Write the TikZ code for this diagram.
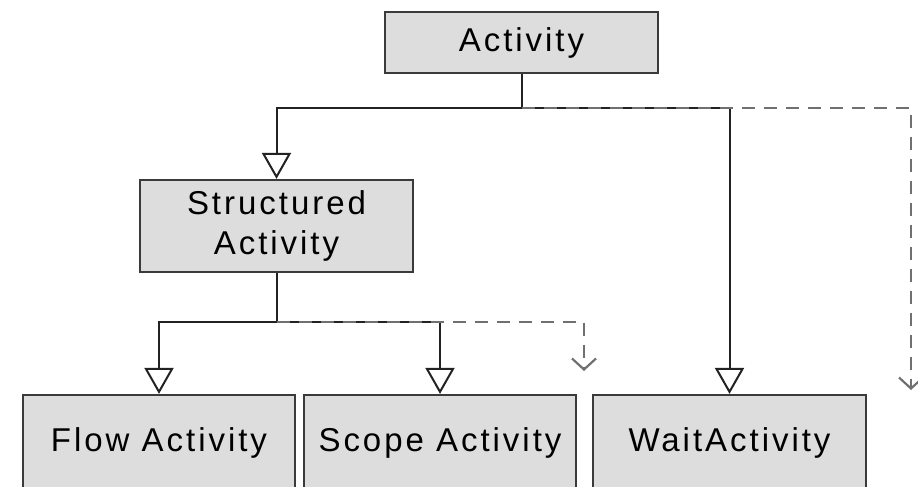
\documentclass[tikz,border=0pt]{standalone}
\usepackage{fontspec}
\newfontfamily\lblfont[LetterSpace=9]{Liberation Sans}
\usetikzlibrary{arrows.meta}
\definecolor{boxfill}{HTML}{DDDDDD}
\definecolor{edgec}{HTML}{222222}
\definecolor{borderc}{HTML}{3A3A3A}
\definecolor{dashc}{HTML}{707070}
\begin{document}
\begin{tikzpicture}[x=1pt,y=-1pt,
  cls/.style={draw=borderc, line width=2.2pt, fill=boxfill,
    font=\lblfont\fontsize{33}{40}\selectfont, text=black,
    text height=23.6pt, text depth=5pt, inner sep=0pt,
    minimum width=273pt, align=center},
  gen/.style={draw=edgec, line width=2pt,
    -{Triangle[open,fill=white,length=26pt,width=29pt,line width=2pt]}},
  more/.style={draw=dashc, line width=2.6pt, dash pattern=on 13pt off 9pt,
    -{Straight Barb[length=11pt,width=24pt,line width=2.2pt]}}]
\useasboundingbox (0,0) rectangle (918,487);
\clip (0,0) rectangle (918,487);

\node[cls, minimum height=61pt] (act) at (521.5,42.5) {Activity};
\node[cls, minimum height=92pt, text height=63.6pt, text depth=7pt] (sa) at (276.5,226) {Structured\\Activity};
\node[cls, minimum width=272pt, minimum height=95pt] (flow) at (159,442.5) {Flow Activity};
\node[cls, minimum width=272pt, minimum height=95pt] (scope) at (440,442.5) {Scope Activity};
\node[cls, minimum height=95pt] (wait) at (729.5,442.5) {WaitActivity};

\coordinate (bus1) at (0,108);
\coordinate (bus2) at (0,322);
\coordinate (more1) at (911,390);
\coordinate (more2) at (584,371);

\draw[gen] (act.south) -- (act.south |- bus1) -| (sa.north);
\draw[gen] (act.south |- bus1) -| (wait.north);
\draw[more] (act.south |- bus1) -| (more1);
\draw[gen] (sa.south) -- (sa.south |- bus2) -| (flow.north);
\draw[gen] (sa.south |- bus2) -| (scope.north);
\draw[more] (sa.south |- bus2) -| (more2);
\end{tikzpicture}
\end{document}
